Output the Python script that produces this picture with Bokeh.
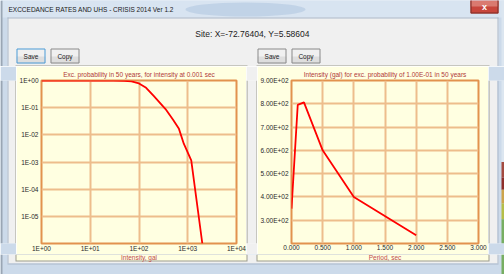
from bokeh.plotting import figure
from bokeh.layouts import row, column
from bokeh.models import Range1d, FixedTicker, CustomJSTickFormatter
from bokeh.embed import file_html
from bokeh.resources import INLINE
from bokeh.core.properties import value

# ---------------- data ----------------
intensity = [1, 10, 30, 50, 70, 100, 140, 200, 350, 500, 660, 830, 1180, 1990]
exc_prob = [1.0, 1.0, 0.999, 0.98, 0.93, 0.78, 0.54, 0.27, 0.089, 0.036, 0.0166, 0.0047, 0.00115, 1.0e-6]

period = [0.0, 0.1, 0.2, 0.5, 1.0, 2.0]
uhs_gal = [350, 795, 806, 600, 400, 235]

left_x_ticks = [1, 10, 100, 1000, 10000]
left_x_labels = ["1E+00", "1E+01", "1E+02", "1E+03", "1E+04"]
left_y_ticks = [1e-5, 1e-4, 1e-3, 1e-2, 1e-1, 1.0]
left_y_labels = ["1E-05", "1E-04", "1E-03", "1E-02", "1E-01", "1E+00"]

right_x_ticks = [0.0, 0.5, 1.0, 1.5, 2.0, 2.5, 3.0]
right_x_labels = ["0.000", "0.500", "1.000", "1.500", "2.000", "2.500", "3.000"]
right_y_ticks = [300, 400, 500, 600, 700, 800, 900]
right_y_labels = ["3.00E+02", "4.00E+02", "5.00E+02", "6.00E+02", "7.00E+02", "8.00E+02", "9.00E+02"]

window_title = "EXCCEDANCE RATES AND UHS - CRISIS 2014 Ver 1.2"
site_text = "Site: X=-72.76404, Y=5.58604"
left_title = "Exc. probability in 50 years, for intensity at 0.001 sec"
left_xlabel = "Intensity, gal"
right_title = "Intensity (gal) for exc. probability of 1.00E-01 in 50 years"
right_xlabel = "Period, sec"

# ---------------- styles ----------------
FONT = "Liberation Sans"
FRAME = "#CCDAEA"
TITLEBAR = "#D8E4F1"
CLIENT = "#F0F0F0"
EDGE = "#9AA6B4"
CBORDER = "#A9B8CA"
PBORDER = "#9C9C8E"
YEL = "#FFFFE1"
ORANGE = "#E2924E"
GRIDC = "#EDBD8C"
TITLE_RED = "#B03838"
LABEL_RED = "#C04C4C"


def canvas(w, h, x0, x1, y0, y1, bg=CLIENT):
    f = figure(width=w, height=h, x_range=Range1d(x0, x1), y_range=Range1d(y1, y0),
               toolbar_location=None, output_backend="svg", min_border=0,
               x_axis_location=None, y_axis_location=None,
               background_fill_color=bg, border_fill_color=bg, outline_line_color=None)
    f.grid.visible = False
    return f


def box(f, x0, y0, x1, y1, color, alpha=1.0):
    f.quad(left=[x0], right=[x1], top=[y0], bottom=[y1], fill_color=color,
           fill_alpha=alpha, line_color=None)


def frame_box(f, x0, y0, x1, y1, color, width=1):
    f.quad(left=[x0], right=[x1], top=[y0], bottom=[y1], fill_color=None,
           line_color=color, line_width=width)


def txt(f, x, y, s, size, color="#1A1A1A", align="center", style="normal"):
    f.text(x=[x], y=[y], text=[s], text_font=value(FONT), text_font_size=size,
           text_color=color, text_align=align, text_baseline="middle", text_font_style=style)


def button(f, x0, x1, label, border):
    box(f, x0, 48, x1, 56, "#F0F0F0")
    box(f, x0, 56, x1, 63, "#DEDEDE")
    frame_box(f, x0 + 0.5, 48.5, x1 - 0.5, 62.5, border)
    txt(f, (x0 + x1) / 2, 55.5, label, "6.5px")


MID_TOP, MID_BOT = 66, 254

# ---------------- top chrome ----------------
top = canvas(504, 66, 0, 504, 0, 66, FRAME)
box(top, 0, 0, 504, 17, TITLEBAR)
top.ellipse(x=[245], y=[9], width=[120], height=[14], fill_color="#AFC4DE",
            fill_alpha=0.55, line_color=None)
box(top, 0, 0, 2, 66, EDGE)
box(top, 7, 17, 498, 66, CLIENT)
box(top, 7, 17, 498, 18, CBORDER)
box(top, 7, 17, 8, 66, CBORDER)
box(top, 497, 17, 498, 66, CBORDER)
box(top, 501, 0, 504, 66, "#DCE6F0")
# close button
box(top, 470, 0, 498, 13, "#C8463C")
box(top, 470, 0, 498, 6, "#DA7A70")
frame_box(top, 470.5, -1, 497.5, 12.5, "#7A2A25")
txt(top, 484, 6.5, "x", "9px", color="#FFFFFF", style="bold")
txt(top, 8, 8.5, window_title, "6.5px", align="left")
txt(top, 252, 33, site_text, "8.5px", color="#222222")
button(top, 16, 45, "Save", "#4A9BD6")
button(top, 50, 79, "Copy", "#8A8A8A")
button(top, 257, 286, "Save", "#8A8A8A")
button(top, 291, 320, "Copy", "#8A8A8A")
box(top, 15, 65, 247, 66, PBORDER)
box(top, 256, 65, 489, 66, PBORDER)

# ---------------- side fillers ----------------
H = MID_BOT - MID_TOP
fa = canvas(16, H, 0, 16, MID_TOP, MID_BOT, FRAME)
box(fa, 0, MID_TOP, 2, MID_BOT, EDGE)
box(fa, 7, MID_TOP, 16, MID_BOT, CLIENT)
box(fa, 7, MID_TOP, 8, MID_BOT, CBORDER)
box(fa, 15, MID_TOP, 16, MID_BOT, PBORDER)

fb = canvas(11, H, 246, 257, MID_TOP, MID_BOT, CLIENT)
box(fb, 246, MID_TOP, 247, MID_BOT, PBORDER)
box(fb, 256, MID_TOP, 257, MID_BOT, PBORDER)

fc = canvas(16, H, 488, 504, MID_TOP, MID_BOT, FRAME)
box(fc, 488, MID_TOP, 497, MID_BOT, CLIENT)
box(fc, 488, MID_TOP, 489, MID_BOT, PBORDER)
box(fc, 497, MID_TOP, 498, MID_BOT, CBORDER)
box(fc, 501, MID_TOP, 504, 160, "#DCE6F0")
box(fc, 501, 160, 504, 178, "#A34A40")
box(fc, 501, 178, 504, 192, "#8E2E2A")
box(fc, 501, 192, 504, 208, "#CDA44C")
box(fc, 501, 208, 504, 226, "#B5BE48")
box(fc, 501, 226, 504, MID_BOT, "#77AE62")

# ---------------- bottom chrome (panel bottoms + axis titles) ----------------
bot = canvas(504, 274 - MID_BOT, 0, 504, MID_BOT, 274, FRAME)
box(bot, 0, MID_BOT, 2, 274, EDGE)
box(bot, 7, MID_BOT, 498, 263, CLIENT)
box(bot, 7, 263, 498, 264, CBORDER)
box(bot, 7, MID_BOT, 8, 263, CBORDER)
box(bot, 497, MID_BOT, 498, 263, CBORDER)
box(bot, 15, MID_BOT, 247, 261, PBORDER)
box(bot, 256, MID_BOT, 489, 261, PBORDER)
box(bot, 16, MID_BOT, 246, 260, YEL)
box(bot, 257, MID_BOT, 488, 260, YEL)
box(bot, 501, MID_BOT, 504, 274, "#77AE62")
txt(bot, 138.5, 256.8, left_xlabel, "6.5px", color=LABEL_RED)
txt(bot, 384.5, 256.8, right_xlabel, "6.5px", color=LABEL_RED)


# ---------------- charts ----------------
def make_formatter(ticks, labels, log):
    return CustomJSTickFormatter(args=dict(t=ticks, l=labels, lg=log), code="""
        let best = 0, bd = Infinity;
        for (let i = 0; i < t.length; i++) {
            const d = lg ? Math.abs(Math.log10(t[i]) - Math.log10(tick)) : Math.abs(t[i] - tick);
            if (d < bd) { bd = d; best = i; }
        }
        return l[best];
    """)


def chart(w, left_b, title, x_range, y_range, xt, xl, yt, yl, log):
    kw = dict(x_axis_type="log", y_axis_type="log") if log else {}
    p = figure(width=w, height=H, x_range=x_range, y_range=y_range,
               toolbar_location=None, output_backend="svg",
               min_border_left=left_b, min_border_right=10, min_border_top=14,
               min_border_bottom=MID_BOT - 244,
               background_fill_color=YEL, border_fill_color=YEL,
               outline_line_color=ORANGE, outline_line_width=2, **kw)
    p.title.text = title
    p.title.align = "center"
    p.title.text_font = FONT
    p.title.text_font_size = "6.5px"
    p.title.text_font_style = "normal"
    p.title.text_color = TITLE_RED
    p.title.standoff = 5
    p.xaxis.ticker = FixedTicker(ticks=xt)
    p.yaxis.ticker = FixedTicker(ticks=yt)
    p.xaxis.formatter = make_formatter(xt, xl, log)
    p.yaxis.formatter = make_formatter(yt, yl, log)
    p.xgrid.ticker = FixedTicker(ticks=xt)
    p.ygrid.ticker = FixedTicker(ticks=yt)
    p.grid.grid_line_color = GRIDC
    p.grid.grid_line_width = 2
    for ax in (p.xaxis, p.yaxis):
        ax.axis_line_color = None
        ax.major_tick_line_color = None
        ax.minor_tick_line_color = None
        ax.major_tick_out = 0
        ax.major_tick_in = 0
        ax.minor_tick_out = 0
        ax.major_label_text_font = FONT
        ax.major_label_text_font_size = "6.5px"
        ax.major_label_text_color = "#2A2A2A"
    p.xaxis.major_label_standoff = 1
    p.yaxis.major_label_standoff = 3
    return p


left = chart(230, 25, left_title, Range1d(1, 1e4), Range1d(1e-6, 1),
             left_x_ticks, left_x_labels, left_y_ticks, left_y_labels, True)
left.line(intensity, exc_prob, line_color="#FF0000", line_width=1.8)

right = chart(231, 34, right_title, Range1d(0, 3), Range1d(200, 900),
              right_x_ticks, right_x_labels, right_y_ticks, right_y_labels, False)
right.line(period, uhs_gal, line_color="#FF0000", line_width=1.8)

root = column(top, row(fa, left, fb, right, fc), bot)

open("out.html", "w").write(file_html(root, INLINE))
